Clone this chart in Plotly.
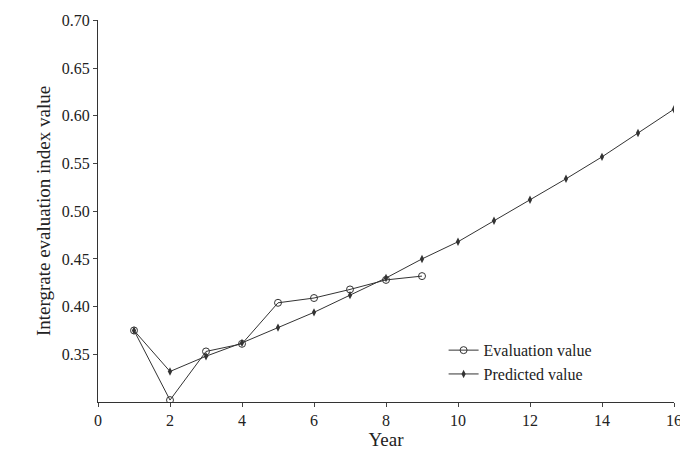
import plotly.graph_objects as go

years_eval = [1, 2, 3, 4, 5, 6, 7, 8, 9]
evaluation = [0.375, 0.302, 0.353, 0.361, 0.404, 0.409, 0.418, 0.428, 0.432]

years_pred = list(range(1, 17))
predicted = [0.375, 0.332, 0.348, 0.362, 0.378, 0.394, 0.412, 0.430,
             0.450, 0.468, 0.490, 0.512, 0.534, 0.557, 0.582, 0.607]

fig = go.Figure()
fig.add_trace(go.Scatter(
    x=years_eval, y=evaluation, name="Evaluation value", mode="lines+markers",
    line=dict(color="#333", width=1),
    marker=dict(symbol="circle-open", size=7, color="#333", line=dict(width=1))))
fig.add_trace(go.Scatter(
    x=years_pred, y=predicted, name="Predicted value", mode="lines+markers",
    line=dict(color="#333", width=1),
    marker=dict(symbol="diamond-tall", size=6, color="#333")))

fig.update_layout(
    width=688, height=454,
    margin=dict(l=90, r=22, t=12, b=60),
    paper_bgcolor="white", plot_bgcolor="white",
    font=dict(family="Liberation Serif", size=16, color="#222"),
    legend=dict(x=0.6, y=0.18, xanchor="left", yanchor="top",
                bgcolor="rgba(0,0,0,0)", font=dict(size=16)),
)
fig.update_xaxes(range=[0, 16], dtick=2, showline=True, linecolor="#333",
                 ticks="outside", ticklen=4, showgrid=False, zeroline=False,
                 automargin=False, title=dict(text="Year", standoff=0))
fig.update_yaxes(range=[0.30, 0.7005], tickvals=[0.35, 0.40, 0.45, 0.50, 0.55, 0.60, 0.65, 0.70],
                 tickformat=".2f", showline=True, linecolor="#333",
                 ticks="outside", ticklen=4, showgrid=False, zeroline=False,
                 automargin=False,
                 title=dict(text="Intergrate evaluation index value", standoff=6))

fig.write_html("out.html")
